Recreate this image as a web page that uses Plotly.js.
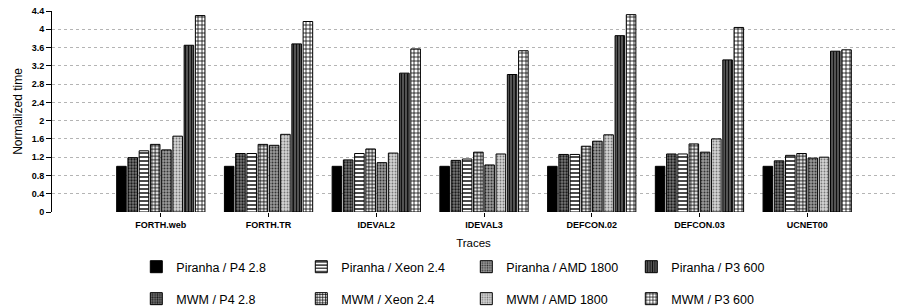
<!DOCTYPE html>
<html>
<head>
<meta charset="utf-8">
<script src="https://cdn.plot.ly/plotly-3.0.1.min.js"></script>
<style>html,body{margin:0;padding:0;background:#fff;}#chart{width:903px;height:307px;}</style>
</head>
<body>
<div id="chart"></div>
<script>
// Categories (traces)
const categories = ["FORTH.web", "FORTH.TR", "IDEVAL2", "IDEVAL3", "DEFCON.02", "DEFCON.03", "UCNET00"];

// Normalized time per series
const piranhaP4   = [1.00, 1.00, 1.00, 1.00, 1.00, 1.00, 1.00];
const mwmP4       = [1.19, 1.28, 1.14, 1.13, 1.26, 1.27, 1.12];
const piranhaXeon = [1.34, 1.28, 1.28, 1.16, 1.26, 1.27, 1.24];
const mwmXeon     = [1.48, 1.48, 1.38, 1.31, 1.44, 1.49, 1.28];
const piranhaAMD  = [1.36, 1.46, 1.08, 1.03, 1.55, 1.31, 1.18];
const mwmAMD      = [1.66, 1.70, 1.29, 1.27, 1.69, 1.60, 1.20];
const piranhaP3   = [3.65, 3.68, 3.04, 3.01, 3.86, 3.33, 3.52];
const mwmP3       = [4.30, 4.17, 3.57, 3.53, 4.32, 4.04, 3.55];

const seriesNames = {
  piranhaP4: "Piranha / P4 2.8", piranhaXeon: "Piranha / Xeon 2.4",
  piranhaAMD: "Piranha / AMD 1800", piranhaP3: "Piranha / P3 600",
  mwmP4: "MWM / P4 2.8", mwmXeon: "MWM / Xeon 2.4",
  mwmAMD: "MWM / AMD 1800", mwmP3: "MWM / P3 600"
};

function bar(name, values, legend, color, pattern) {
  const marker = {color: color, line: {color: "#000", width: 1}};
  if (pattern) marker.pattern = Object.assign({fillmode: "replace"}, pattern);
  return {type: "bar", x: categories, y: values, name: name, legend: legend, marker: marker,
          hoverinfo: "x+y+name"};
}

const data = [
  bar(seriesNames.piranhaP4, piranhaP4, "legend", "#000", null),
  bar(seriesNames.mwmP4, mwmP4, "legend2", "#6e6e6e", {shape: ".", bgcolor: "#7a7a7a", fgcolor: "#1a1a1a", size: 3, solidity: 0.45}),
  bar(seriesNames.piranhaXeon, piranhaXeon, "legend", "#fff", {shape: "-", bgcolor: "#fff", fgcolor: "#000", size: 4, solidity: 0.35}),
  bar(seriesNames.mwmXeon, mwmXeon, "legend2", "#fff", {shape: "+", bgcolor: "#e8e8e8", fgcolor: "#000", size: 3.5, solidity: 0.4}),
  bar(seriesNames.piranhaAMD, piranhaAMD, "legend", "#999", {shape: ".", bgcolor: "#9a9a9a", fgcolor: "#333", size: 3, solidity: 0.35}),
  bar(seriesNames.mwmAMD, mwmAMD, "legend2", "#d0d0d0", {shape: ".", bgcolor: "#d4d4d4", fgcolor: "#777", size: 3, solidity: 0.3}),
  bar(seriesNames.piranhaP3, piranhaP3, "legend", "#555", {shape: "|", bgcolor: "#606060", fgcolor: "#111", size: 3, solidity: 0.45}),
  bar(seriesNames.mwmP3, mwmP3, "legend2", "#fff", {shape: "+", bgcolor: "#fff", fgcolor: "#000", size: 4, solidity: 0.35})
];

const fontFam = "Liberation Sans, Arial, sans-serif";
const legendCommon = {
  orientation: "h", xanchor: "left", yanchor: "middle", x: 0.1,
  entrywidth: 120, entrywidthmode: "pixels",
  font: {family: fontFam, size: 12.5, color: "#000"},
  bgcolor: "rgba(0,0,0,0)", borderwidth: 0, itemclick: false, itemdoubleclick: false
};

const layout = {
  width: 903, height: 307,
  margin: {l: 52, r: 8, t: 11, b: 95, pad: 0, autoexpand: false},
  paper_bgcolor: "#fff", plot_bgcolor: "#fff",
  barmode: "group", bargap: 0.165, bargroupgap: 0.15,
  showlegend: true,
  font: {family: fontFam, color: "#000"},
  xaxis: {
    type: "category", range: [-1.01, 6.815],
    showgrid: false, showline: false, zeroline: false,
    ticks: "outside", ticklen: 4, tickcolor: "#000", tickwidth: 1,
    tickfont: {family: fontFam, size: 9, color: "#000", weight: "bold"},
    title: {text: "Traces", font: {family: fontFam, size: 11.5, color: "#000"}, standoff: 10}
  },
  yaxis: {
    range: [0, 4.4], tick0: 0, dtick: 0.4,
    showgrid: true, gridcolor: "#b4b4b4", griddash: "dot", gridwidth: 1,
    showline: true, linecolor: "#000", linewidth: 1, zeroline: false,
    ticks: "outside", ticklen: 5, tickcolor: "#000", tickwidth: 1,
    tickfont: {family: fontFam, size: 9, color: "#000", weight: "bold"},
    title: {text: "Normalized time", font: {family: fontFam, size: 12, color: "#000"}, standoff: 6}
  },
  legend: Object.assign({}, legendCommon, {y: -0.274}),
  legend2: Object.assign({}, legendCommon, {y: -0.433})
};

Plotly.newPlot("chart", data, layout, {displayModeBar: false, staticPlot: true});
</script>
</body>
</html>
